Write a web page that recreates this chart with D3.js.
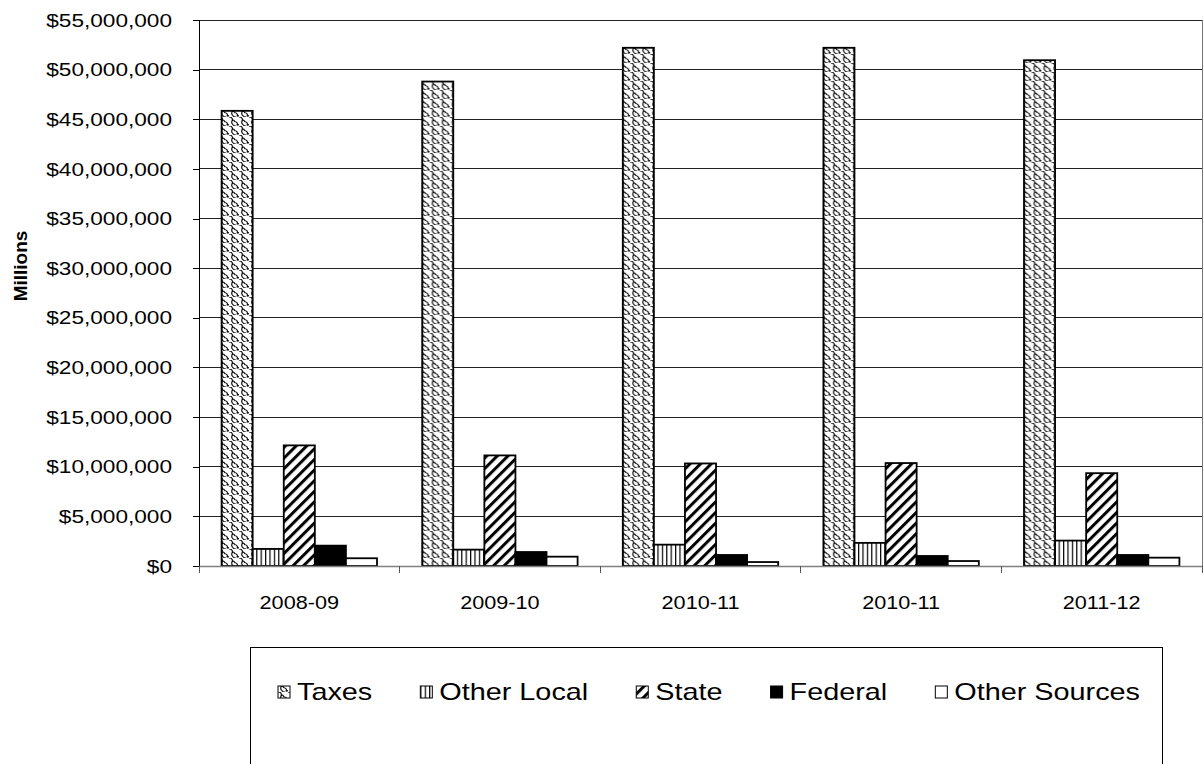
<!DOCTYPE html>
<html>
<head>
<meta charset="utf-8">
<script src="https://cdn.jsdelivr.net/npm/d3@7"></script>
<style>
  html, body { margin: 0; padding: 0; background: #fff; }
  svg { display: block; font-family: "Liberation Sans", Arial, sans-serif; }
</style>
</head>
<body>
<svg id="chart" width="1204" height="764"></svg>
<script>
// Revenue by source, per fiscal year
const years = ["2008-09", "2009-10", "2010-11", "2010-11", "2011-12"];
const seriesNames = ["Taxes", "Other Local", "State", "Federal", "Other Sources"];
const taxes        = [45850000, 48800000, 52200000, 52200000, 50950000];
const otherLocal   = [1720000, 1650000, 2150000, 2330000, 2560000];
const stateAid     = [12150000, 11140000, 10330000, 10370000, 9350000];
const federal      = [2050000, 1410000, 1110000, 1010000, 1110000];
const otherSources = [780000, 940000, 400000, 500000, 840000];
const yTicks = [0, 5e6, 10e6, 15e6, 20e6, 25e6, 30e6, 35e6, 40e6, 45e6, 50e6, 55e6];

const seriesValues = [taxes, otherLocal, stateAid, federal, otherSources];
const fills = ["url(#pTaxes)", "url(#pLocal)", "url(#pState)", "#000", "#fff"];

const svg = d3.select("#chart");
const plot = { left: 199, right: 1202, top: 20, bottom: 566 };

function widen(sel, k) {
  sel.each(function () {
    const w = this.getComputedTextLength();
    d3.select(this).attr("textLength", w * k).attr("lengthAdjust", "spacingAndGlyphs");
  });
}

// fill patterns
const defs = svg.append("defs");
const pt = defs.append("pattern").attr("id", "pTaxes").attr("patternUnits", "userSpaceOnUse")
  .attr("width", 10).attr("height", 9);
pt.append("rect").attr("width", 10).attr("height", 9).attr("fill", "#fff");
pt.append("path")
  .attr("d", "M0,0 C3,0 4,2 3,4 C2,6 4,9 7,9 M5,4.5 C8,4.5 9,6.5 8,8.5 M10,0 C13,0 14,2 13,4 M-5,4.5 C-2,4.5 -1,6.5 -2,8.5 M3,4 C4,2.5 6,3.5 5,4.5 M8,-0.5 C9,-2 11,-1 10,0 M8,8.5 C9,7 11,8 10,9")
  .attr("fill", "none").attr("stroke", "#111").attr("stroke-width", 1.2);

const pl = defs.append("pattern").attr("id", "pLocal").attr("patternUnits", "userSpaceOnUse")
  .attr("width", 4.4).attr("height", 10);
pl.append("rect").attr("width", 4.4).attr("height", 10).attr("fill", "#fff");
pl.append("rect").attr("x", 0).attr("width", 1.2).attr("height", 10).attr("fill", "#000");

const ps = defs.append("pattern").attr("id", "pState").attr("patternUnits", "userSpaceOnUse")
  .attr("width", 7.5).attr("height", 10).attr("patternTransform", "rotate(45)");
ps.append("rect").attr("width", 7.5).attr("height", 10).attr("fill", "#fff");
ps.append("rect").attr("x", 0).attr("width", 3).attr("height", 10).attr("fill", "#000");

const idx = d3.range(years.length);
const x0 = d3.scaleBand().domain(idx).range([plot.left, plot.right]).paddingInner(0).paddingOuter(0);
const x1 = d3.scaleBand().domain(d3.range(seriesNames.length))
  .range([0, x0.bandwidth()]).paddingOuter(0.727).paddingInner(0);
const y = d3.scaleLinear().domain([0, 55e6]).range([plot.bottom, plot.top]);

// gridlines
svg.append("g").selectAll("line").data(yTicks.filter(d => d > 0)).join("line")
  .attr("x1", plot.left).attr("x2", plot.right)
  .attr("y1", d => y(d)).attr("y2", d => y(d))
  .attr("stroke", "#222").attr("stroke-width", 1).attr("shape-rendering", "crispEdges");

// right border
svg.append("line").attr("x1", plot.right).attr("x2", plot.right)
  .attr("y1", plot.top).attr("y2", plot.bottom)
  .attr("stroke", "#777").attr("shape-rendering", "crispEdges");

// y axis
const yAxis = d3.axisLeft(y).tickValues(yTicks).tickSize(6).tickPadding(21)
  .tickFormat(d => "$" + d3.format(",")(d));
const gy = svg.append("g").attr("transform", `translate(${plot.left},0)`).call(yAxis);
gy.select(".domain").attr("stroke", "#000").attr("shape-rendering", "crispEdges");
gy.selectAll(".tick line").attr("stroke", "#000").attr("shape-rendering", "crispEdges");
gy.selectAll("text").attr("font-size", 19).attr("fill", "#000")
  .attr("font-family", "Liberation Sans, Arial, sans-serif");
widen(gy.selectAll("text"), 1.19);

// bars
const groups = svg.append("g").selectAll("g").data(idx).join("g")
  .attr("transform", i => `translate(${x0(i)},0)`);
groups.selectAll("rect").data(i => seriesValues.map((arr, s) => ({ s, v: arr[i] }))).join("rect")
  .attr("x", d => x1(d.s)).attr("width", x1.bandwidth())
  .attr("y", d => y(d.v)).attr("height", d => y(0) - y(d.v))
  .attr("fill", d => fills[d.s]).attr("stroke", "#000").attr("stroke-width", 1.8);

// x axis
const xAxis = d3.axisBottom(x0).tickSize(0).tickPadding(30).tickFormat(i => years[i]);
const gx = svg.append("g").attr("transform", `translate(0,${plot.bottom})`).call(xAxis);
gx.select(".domain").attr("stroke", "#808080").attr("stroke-width", 1.5);
gx.selectAll("text").attr("font-size", 19).attr("fill", "#000")
  .attr("font-family", "Liberation Sans, Arial, sans-serif");
widen(gx.selectAll("text"), 1.14);
gx.selectAll(".sep").data(d3.range(years.length + 1)).join("line").attr("class", "sep")
  .attr("x1", i => plot.left + i * x0.bandwidth()).attr("x2", i => plot.left + i * x0.bandwidth())
  .attr("y1", 0).attr("y2", 7).attr("stroke", "#555").attr("shape-rendering", "crispEdges");

// y axis title
svg.append("text").attr("transform", "translate(27,266) rotate(-90)")
  .attr("text-anchor", "middle").attr("font-weight", "bold").attr("font-size", 19)
  .text("Millions");

// legend
const lg = svg.append("g");
lg.append("path").attr("d", "M250,764 V647.5 H1162 V764")
  .attr("fill", "none").attr("stroke", "#000").attr("shape-rendering", "crispEdges");
const item = lg.selectAll("g.item").data(seriesNames).join("g").attr("class", "item");
item.append("rect").attr("x", 0).attr("y", -6).attr("width", 12).attr("height", 12)
  .attr("fill", (d, i) => fills[i]).attr("stroke", "#000").attr("stroke-width", 1);
const ltext = item.append("text").attr("x", 19).attr("dy", "0.35em").attr("font-size", 24).text(d => d);
widen(ltext, 1.2);
// spread entries evenly between the first icon and the end of the last label
const legStart = 278, legEnd = 1140;
const itemW = [];
ltext.each(function () { itemW.push(19 + (+d3.select(this).attr("textLength"))); });
const gap = (legEnd - legStart - d3.sum(itemW)) / (itemW.length - 1);
let cx = legStart;
item.attr("transform", (d, i) => {
  const t = `translate(${cx},692)`;
  cx += itemW[i] + gap;
  return t;
});
</script>
</body>
</html>
